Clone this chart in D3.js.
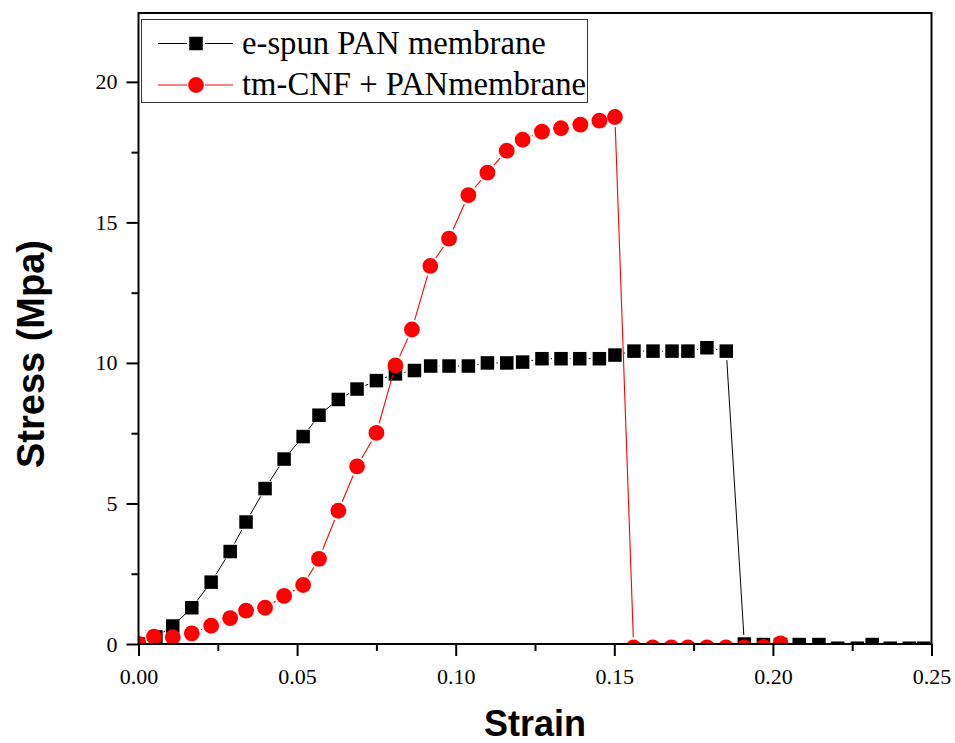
<!DOCTYPE html>
<html>
<head>
<meta charset="utf-8">
<script src="https://cdn.jsdelivr.net/npm/d3@7"></script>
<style>
  html, body { margin: 0; padding: 0; background: #fff; }
  svg { display: block; }
</style>
</head>
<body>
<svg id="chart" width="955" height="743"></svg>
<script>
// Tensile test: stress (MPa) against strain for two membranes
const panStrain = [0, 0.0055, 0.0108, 0.0168, 0.0229, 0.0289, 0.0339, 0.0399, 0.0459, 0.0519,
  0.0569, 0.0630, 0.0689, 0.0750, 0.0810, 0.0870, 0.0921, 0.0979, 0.1040, 0.1100,
  0.1161, 0.1211, 0.1272, 0.1332, 0.1391, 0.1453, 0.1502, 0.1562, 0.1622, 0.1682,
  0.1732, 0.1792, 0.1853, 0.1910, 0.1970, 0.2024, 0.2083, 0.2145, 0.2204, 0.2266,
  0.2313, 0.2370, 0.2430, 0.2475];
const panStress = [0, 0.25, 0.64, 1.29, 2.20, 3.29, 4.34, 5.53, 6.58, 7.38,
  8.14, 8.70, 9.07, 9.37, 9.61, 9.73, 9.89, 9.89, 9.89, 10.00,
  10.00, 10.03, 10.15, 10.15, 10.15, 10.15, 10.28, 10.42, 10.42, 10.42,
  10.42, 10.54, 10.42, 0.00, -0.02, -0.02, -0.02, -0.02, -0.15, -0.15,
  -0.02, -0.15, -0.15, -0.15];

const cnfStrain = [0, 0.0049, 0.0108, 0.0168, 0.0229, 0.0289, 0.0339, 0.0399, 0.0459, 0.0519,
  0.0569, 0.0630, 0.0689, 0.0750, 0.0810, 0.0862, 0.0920, 0.0979, 0.1040, 0.1100,
  0.1161, 0.1211, 0.1272, 0.1332, 0.1393, 0.1453, 0.1502, 0.1561, 0.1621, 0.1680,
  0.1732, 0.1792, 0.1852, 0.1910, 0.1971, 0.2024];
const cnfStress = [0, 0.26, 0.24, 0.38, 0.65, 0.92, 1.19, 1.29, 1.71, 2.10,
  3.03, 4.74, 6.32, 7.51, 9.91, 11.19, 13.45, 14.42, 15.97, 16.77,
  17.55, 17.94, 18.23, 18.35, 18.48, 18.62, 18.75, -0.12, -0.12, -0.12,
  -0.12, -0.12, -0.12, -0.12, -0.10, 0.02];

const seriesNames = ["e-spun PAN membrane", "tm-CNF + PANmembrane"];
const xTicks = [0, 0.05, 0.10, 0.15, 0.20, 0.25];
const xMinorTicks = [0.025, 0.075, 0.125, 0.175, 0.225];
const yTicks = [0, 5, 10, 15, 20];
const yMinorTicks = [2.5, 7.5, 12.5, 17.5];
const xTitle = "Strain";
const yTitle = "Stress (Mpa)";

const svg = d3.select("#chart");
const plot = { left: 138.5, right: 931.5, top: 13, bottom: 644 };

const x = d3.scaleLinear().domain([0, 0.25]).range([plot.left, plot.right]);
const y = d3.scaleLinear().domain([0, 22.45]).range([plot.bottom, plot.top]);

svg.append("defs").append("clipPath").attr("id", "plotClip")
  .append("rect")
  .attr("x", plot.left).attr("y", plot.top)
  .attr("width", plot.right - plot.left).attr("height", plot.bottom - plot.top);

const serif = "'Liberation Serif', 'Times New Roman', serif";
const sans = "'Liberation Sans', Arial, sans-serif";

const layer = svg.append("g").attr("clip-path", "url(#plotClip)");

// line segments leave a small gap next to each symbol
function drawGappedLine(g, pts, gap, color, width) {
  for (let i = 0; i < pts.length - 1; i++) {
    const [x0, y0] = pts[i], [x1, y1] = pts[i + 1];
    const dx = x1 - x0, dy = y1 - y0;
    const len = Math.hypot(dx, dy);
    if (len <= 2 * gap) continue;
    const ux = dx / len, uy = dy / len;
    g.append("line")
      .attr("x1", x0 + ux * gap).attr("y1", y0 + uy * gap)
      .attr("x2", x1 - ux * gap).attr("y2", y1 - uy * gap)
      .attr("stroke", color).attr("stroke-width", width);
  }
}

const panPts = panStrain.map((s, i) => [x(s), y(panStress[i])]);
const cnfPts = cnfStrain.map((s, i) => [x(s), y(cnfStress[i])]);

const sq = 13.5, rad = 7.9;

// PAN series: line then squares
drawGappedLine(layer.append("g"), panPts, 9, "#000", 1);
layer.append("g").selectAll("rect").data(panPts).join("rect")
  .attr("x", d => d[0] - sq / 2).attr("y", d => d[1] - sq / 2)
  .attr("width", sq).attr("height", sq)
  .attr("fill", "#000");

// tm-CNF + PAN series: line then circles
drawGappedLine(layer.append("g"), cnfPts, 10, "#ff0000", 1.1);
layer.append("g").selectAll("circle").data(cnfPts).join("circle")
  .attr("cx", d => d[0]).attr("cy", d => d[1]).attr("r", rad)
  .attr("fill", "#ff0000");

// axes
const axisStyle = g => {
  g.selectAll("path.domain").remove();
  g.selectAll("line").attr("stroke", "#000").attr("stroke-width", 2);
  g.selectAll("text").attr("fill", "#000").attr("font-family", serif).attr("font-size", 22);
};

svg.append("g").attr("transform", `translate(0,${plot.bottom})`)
  .call(d3.axisBottom(x).tickValues(xTicks).tickFormat(d3.format(".2f"))
    .tickSize(12).tickSizeOuter(0).tickPadding(12))
  .call(axisStyle);
svg.append("g").attr("transform", `translate(0,${plot.bottom})`)
  .call(d3.axisBottom(x).tickValues(xMinorTicks).tickFormat("").tickSize(7).tickSizeOuter(0))
  .call(axisStyle);

svg.append("g").attr("transform", `translate(${plot.left},0)`)
  .call(d3.axisLeft(y).tickValues(yTicks).tickFormat(d3.format("d"))
    .tickSize(12).tickSizeOuter(0).tickPadding(9))
  .call(axisStyle);
svg.append("g").attr("transform", `translate(${plot.left},0)`)
  .call(d3.axisLeft(y).tickValues(yMinorTicks).tickFormat("").tickSize(7).tickSizeOuter(0))
  .call(axisStyle);

// frame
svg.append("rect")
  .attr("x", plot.left).attr("y", plot.top)
  .attr("width", plot.right - plot.left).attr("height", plot.bottom - plot.top)
  .attr("fill", "none").attr("stroke", "#000").attr("stroke-width", 2);

// axis titles
svg.append("text")
  .attr("x", (plot.left + plot.right) / 2).attr("y", 736)
  .attr("text-anchor", "middle")
  .attr("font-family", sans).attr("font-weight", "bold").attr("font-size", 36)
  .text(xTitle);

svg.append("text")
  .attr("transform", "translate(44,354) rotate(-90)")
  .attr("text-anchor", "middle")
  .attr("font-family", sans).attr("font-weight", "bold").attr("font-size", 38)
  .text(yTitle);

// legend
const legend = svg.append("g");
legend.append("rect")
  .attr("x", 141.5).attr("y", 19.5).attr("width", 446).attr("height", 83)
  .attr("fill", "#fff").attr("stroke", "#333").attr("stroke-width", 1);

const legendRows = [
  { name: seriesNames[0], color: "#000", shape: "square", cy: 43.5, base: 53.5 },
  { name: seriesNames[1], color: "#ff0000", shape: "circle", cy: 85, base: 95 }
];
legendRows.forEach(r => {
  const g = legend.append("g");
  g.append("line").attr("x1", 158).attr("x2", 187).attr("y1", r.cy).attr("y2", r.cy)
    .attr("stroke", r.color).attr("stroke-width", 1);
  g.append("line").attr("x1", 205).attr("x2", 233).attr("y1", r.cy).attr("y2", r.cy)
    .attr("stroke", r.color).attr("stroke-width", 1);
  if (r.shape === "square") {
    g.append("rect").attr("x", 196 - sq / 2).attr("y", r.cy - sq / 2)
      .attr("width", sq).attr("height", sq).attr("fill", r.color);
  } else {
    g.append("circle").attr("cx", 196).attr("cy", r.cy).attr("r", rad).attr("fill", r.color);
  }
  g.append("text").attr("x", 242).attr("y", r.base)
    .attr("font-family", serif).attr("font-size", 32.7).attr("fill", "#000")
    .text(r.name);
});
</script>
</body>
</html>
